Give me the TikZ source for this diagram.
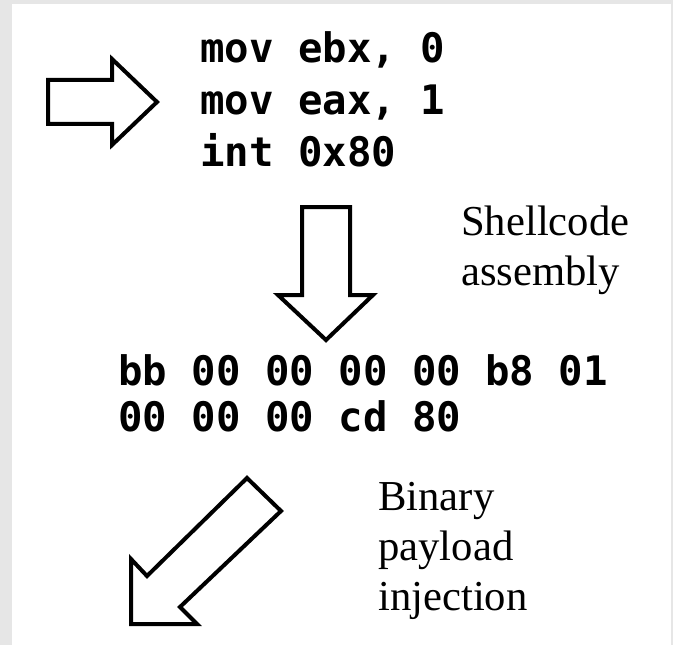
\documentclass[tikz,border=0pt]{standalone}
\usepackage{fontspec}
\setmainfont{Liberation Serif}
\setmonofont{DejaVu Sans Mono}
\definecolor{frame}{HTML}{E6E6E6}
\tikzset{
  code/.style={anchor=base west,inner sep=0pt,font=\fontsize{30.5}{36}\selectfont\ttfamily\bfseries},
  note/.style={anchor=base west,inner sep=0pt,font=\fontsize{32}{38}\selectfont},
  blockarrow/.style={draw=black,line width=3pt,line join=miter,fill=white},
}

\begin{document}
\begin{tikzpicture}[x=0.75pt,y=-0.75pt]
    \fill[frame] (0,0) rectangle (673,645);
    \fill[white] (12,4) rectangle (671,645);
    \useasboundingbox (0,0) rectangle (673,645);
    % assembly source
    \node[code] (code1) at (200,63) {mov ebx, 0};
    \node[code] (code2) at (200,115) {mov eax, 1};
    \node[code] (code3) at (200,167) {int 0x80};
    % machine code bytes
    \node[code] (hex1) at (118,385) {bb 00 00 00 00 b8 01};
    \node[code] (hex2) at (118,431) {00 00 00 cd 80};
    % side notes
    \node[note] (asm1) at (461,235) {Shellcode};
    \node[note] (asm2) at (461,285) {assembly};
    \node[note] (inj1) at (378,510) {Binary};
    \node[note] (inj2) at (378,560) {payload};
    \node[note] (inj3) at (378,610) {injection};
    % block arrows
    \draw[blockarrow] (48,80) -- (112,80) -- (112,59) -- (157,102) -- (112,145) -- (112,124) -- (48,124) -- cycle;
    \draw[blockarrow] (302,207) -- (350,207) -- (350,295) -- (373,295) -- (326,340) -- (278,295) -- (302,295) -- cycle;
    \draw[blockarrow] (247,478) -- (281,511) -- (180,607) -- (197,624) -- (131,624) -- (131,559) -- (147,576) -- cycle;
  \end{tikzpicture}
\end{document}
